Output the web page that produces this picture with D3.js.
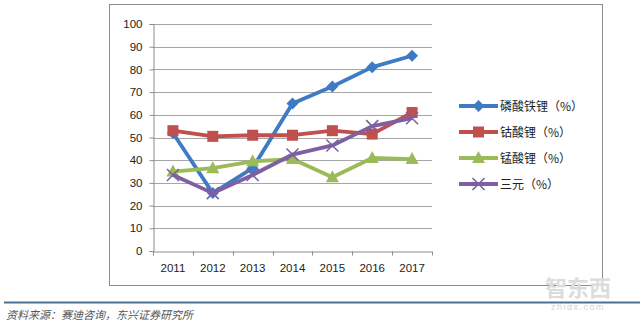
<!DOCTYPE html>
<html>
<head>
<meta charset="utf-8">
<script src="https://cdn.jsdelivr.net/npm/d3@7"></script>
<style>
  html, body { margin: 0; padding: 0; background: #fff; }
  svg { display: block; }
</style>
</head>
<body>
<svg id="chart" width="640" height="322"></svg>
<script>
// Battery cathode chemistries, share by year (%)
const years = ["2011", "2012", "2013", "2014", "2015", "2016", "2017"];
const lfp = [52, 25.5, 36.5, 65, 72.5, 81, 86];      // 磷酸铁锂
const lco = [53, 50.5, 51, 51, 53, 51.5, 61];        // 钴酸锂
const lmo = [35, 36.5, 39.5, 40.5, 32.5, 41, 40.5];  // 锰酸锂
const ncm = [33.5, 25.5, 33.5, 42.5, 46.5, 55, 58.5]; // 三元
const yTicks = [0, 10, 20, 30, 40, 50, 60, 70, 80, 90, 100];

const series = [
  { name: "磷酸铁锂（%）", values: lfp, color: "#3f7bc4", marker: "diamond" },
  { name: "钴酸锂（%）", values: lco, color: "#c0504d", marker: "square" },
  { name: "锰酸锂（%）", values: lmo, color: "#9bbb59", marker: "triangle" },
  { name: "三元（%）", values: ncm, color: "#7e5fa2", marker: "cross" }
];

const svg = d3.select("#chart");

// outer chart frame
svg.append("rect")
  .attr("x", 109.5).attr("y", 4.5)
  .attr("width", 493).attr("height", 281)
  .attr("fill", "#fff").attr("stroke", "#8c8c8c").attr("stroke-width", 1);

const plot = { left: 153, right: 432, top: 24, bottom: 251 };

const x = d3.scaleBand().domain(years).range([plot.left, plot.right]);
const y = d3.scaleLinear().domain([0, 100]).range([plot.bottom, plot.top]);

// horizontal gridlines
svg.append("g")
  .selectAll("line")
  .data(yTicks.filter(d => d > 0))
  .join("line")
  .attr("x1", plot.left).attr("x2", plot.right)
  .attr("y1", d => Math.round(y(d)) + 0.5).attr("y2", d => Math.round(y(d)) + 0.5)
  .attr("stroke", "#a6a6a6").attr("stroke-width", 1);

// y axis
const yAxis = svg.append("g")
  .attr("transform", `translate(${plot.left + 0.5},0)`)
  .call(d3.axisLeft(y).tickValues(yTicks).tickSize(4).tickPadding(7));
yAxis.select(".domain").attr("stroke", "#8c8c8c");
yAxis.selectAll(".tick line").attr("stroke", "#8c8c8c");
yAxis.selectAll("text")
  .attr("font-family", "Liberation Sans, Arial, sans-serif")
  .attr("font-size", 11.5).attr("fill", "#222");

// x axis
const xAxis = svg.append("g")
  .attr("transform", `translate(0,${Math.round(plot.bottom) + 0.5})`)
  .call(d3.axisBottom(x).tickSize(0).tickPadding(12));
xAxis.select(".domain").attr("stroke", "#8c8c8c");
xAxis.selectAll("text")
  .attr("font-family", "Liberation Sans, Arial, sans-serif")
  .attr("font-size", 11.5).attr("fill", "#222");
// category boundary ticks
xAxis.selectAll(".bound")
  .data(years.concat(["end"]))
  .join("line")
  .attr("class", "bound")
  .attr("x1", (d, i) => Math.round(plot.left + i * x.step()) + 0.5)
  .attr("x2", (d, i) => Math.round(plot.left + i * x.step()) + 0.5)
  .attr("y1", 0).attr("y2", 4)
  .attr("stroke", "#8c8c8c");

function drawMarker(g, type, cx, cy, color) {
  if (type === "diamond") {
    g.append("path")
      .attr("d", `M${cx},${cy - 6} L${cx + 6},${cy} L${cx},${cy + 6} L${cx - 6},${cy} Z`)
      .attr("fill", color);
  } else if (type === "square") {
    g.append("rect")
      .attr("x", cx - 5.5).attr("y", cy - 5.5).attr("width", 11).attr("height", 11)
      .attr("fill", color);
  } else if (type === "triangle") {
    g.append("path")
      .attr("d", `M${cx},${cy - 7} L${cx + 6.5},${cy + 5} L${cx - 6.5},${cy + 5} Z`)
      .attr("fill", color);
  } else {
    g.append("path")
      .attr("d", `M${cx - 6},${cy - 6} L${cx + 6},${cy + 6} M${cx - 6},${cy + 6} L${cx + 6},${cy - 6}`)
      .attr("stroke", color).attr("stroke-width", 1.6).attr("fill", "none");
  }
}

const line = d3.line()
  .x((d, i) => x(years[i]) + x.bandwidth() / 2)
  .y(d => y(d));

series.forEach(s => {
  const g = svg.append("g");
  g.append("path")
    .datum(s.values)
    .attr("d", line)
    .attr("fill", "none")
    .attr("stroke", s.color)
    .attr("stroke-width", 3.8)
    .attr("stroke-linejoin", "round");
  s.values.forEach((v, i) => {
    drawMarker(g, s.marker, x(years[i]) + x.bandwidth() / 2, y(v), s.color);
  });
});

// legend
const legend = svg.append("g");
series.forEach((s, i) => {
  const ly = 106 + i * 26;
  const g = legend.append("g");
  g.append("line")
    .attr("x1", 459).attr("x2", 498).attr("y1", ly).attr("y2", ly)
    .attr("stroke", s.color).attr("stroke-width", 3.8);
  drawMarker(g, s.marker, 478.5, ly, s.color);
  g.append("text")
    .attr("x", 500).attr("y", ly + 4.5)
    .attr("font-family", "Noto Sans CJK SC, sans-serif")
    .attr("font-size", 12).attr("fill", "#222")
    .text(s.name);
});

// watermark
svg.append("text")
  .attr("x", 578).attr("y", 296)
  .attr("text-anchor", "middle")
  .attr("font-family", "Noto Sans CJK SC, sans-serif")
  .attr("font-size", 22).attr("font-weight", "bold")
  .attr("fill", "#dcdcdc")
  .text("智东西");

// separator line
svg.append("line")
  .attr("x1", 4).attr("x2", 640).attr("y1", 302.5).attr("y2", 302.5)
  .attr("stroke", "#4d7193").attr("stroke-width", 2);

svg.append("text")
  .attr("x", 578).attr("y", 310)
  .attr("text-anchor", "middle")
  .attr("font-family", "Liberation Sans, Arial, sans-serif")
  .attr("font-size", 9).attr("letter-spacing", 1.5)
  .attr("fill", "#d4d4d4")
  .text("zhidx.com");

// source note
svg.append("text")
  .attr("x", 6).attr("y", 319)
  .attr("font-family", "Noto Sans CJK SC, sans-serif")
  .attr("font-size", 11).attr("font-style", "italic")
  .attr("fill", "#555")
  .text("资料来源：赛迪咨询，东兴证券研究所");
</script>
</body>
</html>
